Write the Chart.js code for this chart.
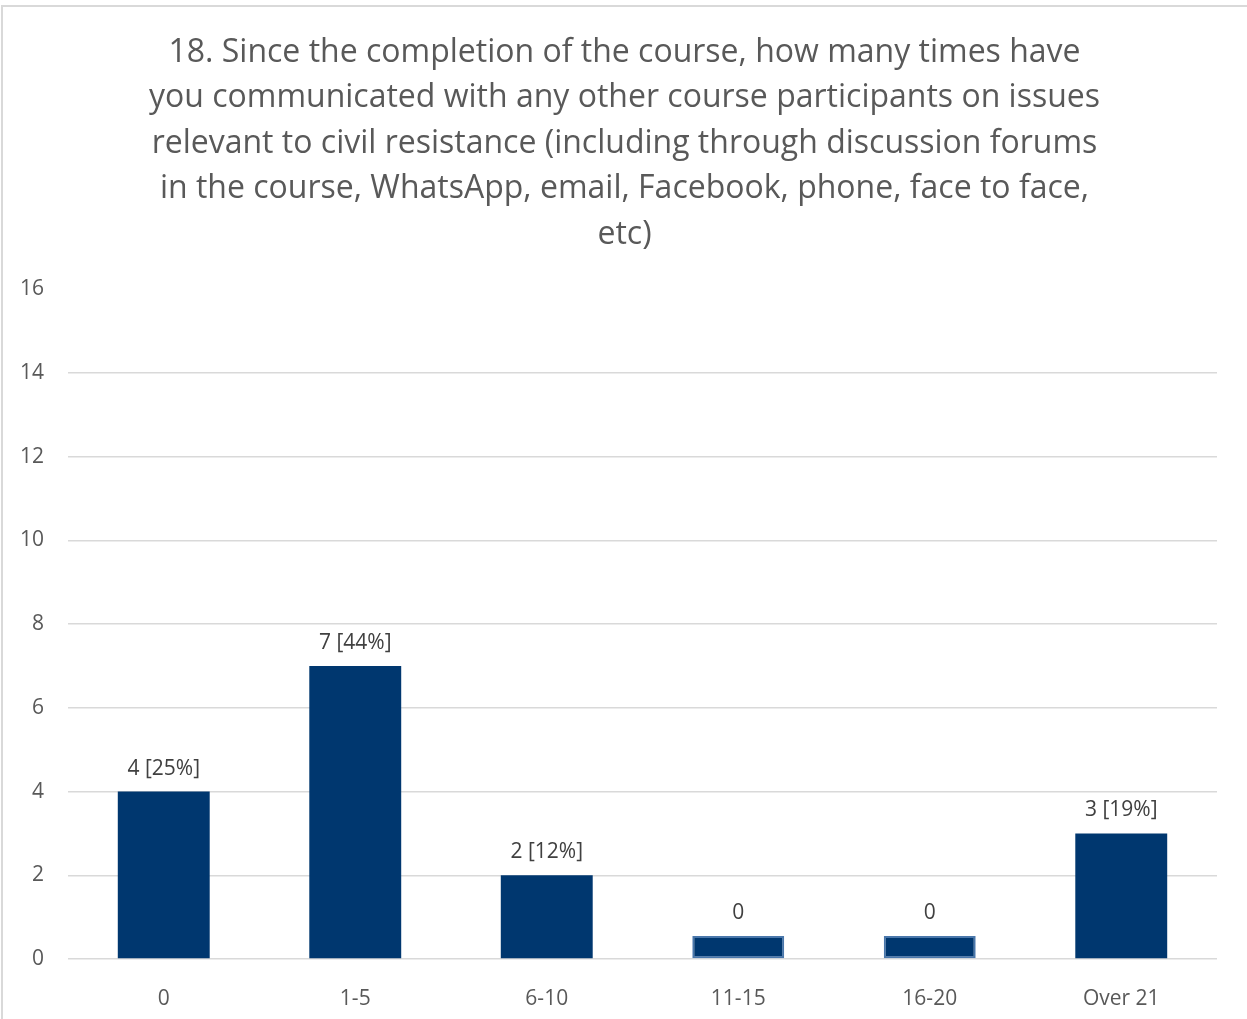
<!DOCTYPE html>
<html>
<head>
<meta charset="utf-8">
<title>Communication with course participants</title>
<script src="https://cdn.jsdelivr.net/npm/chart.js@4.4.1/dist/chart.umd.min.js"></script>
<style>
  html, body { margin: 0; padding: 0; background: #fff; }
  #frame {
    position: absolute; left: 1px; top: 5px; width: 1250px; height: 1020px;
    border-top: 2px solid #d9d9d9; border-left: 2px solid #d9d9d9;
  }
  #wrap { position: absolute; left: 0; top: 0; width: 1247px; height: 1019px; }
</style>
</head>
<body>
<div id="frame"></div>
<div id="wrap"><canvas id="grafico"></canvas></div>
<script>
// respostas por faixa
var categorias = ["0", "1-5", "6-10", "11-15", "16-20", "Over 21"];
var respostas = [4, 7, 2, 0, 0, 3];
var percentuais = [25, 44, 12, 0, 0, 19];
var ticksY = [0, 2, 4, 6, 8, 10, 12, 14, 16];

var titulo = [
    "18. Since the completion of the course, how many times have",
    "you communicated with any other course participants on issues",
    "relevant to civil resistance (including through discussion forums",
    "in the course, WhatsApp, email, Facebook, phone, face to face,",
    "etc)"
];

var corBarra = "#00376f";
var corTexto = "#595959";
var fonte = "'Open Sans', sans-serif";

// rotulo acima de cada barra
var rotulos = {
    id: "rotulos",
    afterDatasetsDraw: function(chart){
        var ctx = chart.ctx;
        var meta = chart.getDatasetMeta(0);
        ctx.save();
        ctx.font = "21px " + fonte;
        ctx.fillStyle = "#404040";
        ctx.textAlign = "center";
        ctx.textBaseline = "middle";
        meta.data.forEach(function(barra, i){
            var v = respostas[i];
            var txt = v === 0 ? "0" : v + " [" + percentuais[i] + "%]";
            ctx.fillText(txt, barra.x, barra.y - 23);
        });
        ctx.restore();
    }
};

// centraliza o titulo na largura toda do canvas
var tituloCentro = {
    id: "tituloCentro",
    afterLayout: function(chart){
        if (chart.titleBlock) {
            chart.titleBlock.left = 2;
            chart.titleBlock.right = chart.width;
        }
    }
};

var ctx = document.getElementById("grafico").getContext("2d");
window.myBar = new Chart(ctx, {
    type: "bar",
    data: {
        labels: categorias,
        datasets: [{
            label: "Respostas",
            data: respostas,
            backgroundColor: corBarra,
            borderColor: respostas.map(function(v){ return v === 0 ? "#4a77ab" : corBarra; }),
            borderWidth: respostas.map(function(v){ return v === 0 ? 2 : 0; }),
            borderSkipped: false,
            minBarLength: 23,
            categoryPercentage: 1,
            barPercentage: 0.48
        }]
    },
    plugins: [rotulos, tituloCentro],
    options: {
        responsive: true,
        maintainAspectRatio: false,
        animation: false,
        layout: {
            padding: { left: 20, right: 30, top: 0, bottom: 0 }
        },
        plugins: {
            legend: { display: false },
            tooltip: { enabled: false },
            title: {
                display: true,
                text: titulo,
                color: corTexto,
                font: { family: fonte, size: 32, weight: "normal", lineHeight: 1.42 },
                padding: { top: 30, bottom: 32 }
            }
        },
        scales: {
            x: {
                grid: { display: false },
                border: { display: false },
                afterFit: function(axis){ axis.height = 60; },
                ticks: {
                    color: corTexto,
                    padding: 19,
                    maxRotation: 0,
                    font: { family: fonte, size: 21 }
                }
            },
            y: {
                min: 0,
                max: 16,
                afterBuildTicks: function(axis){
                    axis.ticks = ticksY.map(function(v){ return { value: v }; });
                },
                afterFit: function(axis){ axis.width = 48; },
                grid: {
                    drawTicks: false,
                    lineWidth: 1.5,
                    color: function(c){ return c.tick && c.tick.value === 16 ? "rgba(0,0,0,0)" : "#d9d9d9"; }
                },
                border: { display: false },
                ticks: {
                    color: corTexto,
                    padding: 24,
                    font: { family: fonte, size: 21 }
                }
            }
        }
    }
});
</script>
</body>
</html>
